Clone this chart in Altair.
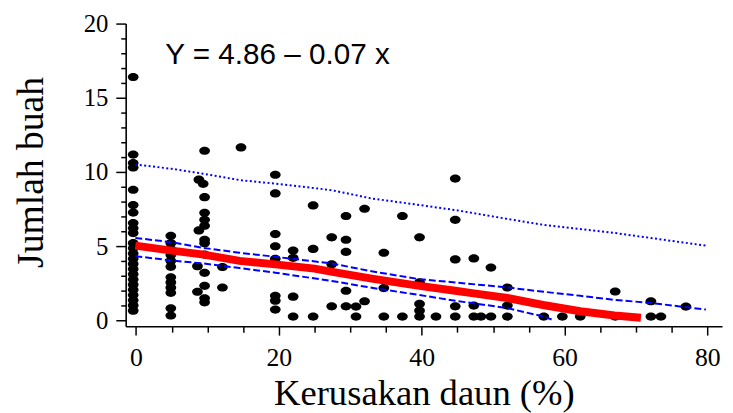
import altair as alt
import pandas as pd

# ---- scatter data (Kerusakan daun %, Jumlah buah) ----
pts_x = (
    [-0.4] * 24
    + [4.87] * 12
    + [9.6, 8.8, 9.4, 9.6, 9.6, 9.6, 9.6, 8.8, 9.6, 9.6, 9.6, 8.6, 9.6, 9.6, 8.6, 9.6, 9.6]
    + [12.1, 12.1, 14.7]
    + [19.5] * 8
    + [22.0] * 4
    + [24.8] * 3
    + [27.4] * 3
    + [29.4] * 5
    + [30.8] * 2
    + [32.0] * 2
    + [34.7] * 3
    + [37.3] * 2
    + [39.7] * 5
    + [42.0]
    + [44.7] * 5
    + [47.3] * 3
    + [48.3]
    + [49.7] * 2
    + [52.0] * 3
    + [57.1, 59.7, 62.2]
    + [67.1] * 2
    + [72.1] * 2
    + [73.5, 77.0]
)
pts_y = (
    [16.4, 11.17, 10.6, 10.3, 8.8, 7.77, 7.26, 6.55, 6.2, 5.88, 5.2, 4.85,
     4.5, 4.15, 3.8, 3.45, 3.1, 2.75, 2.4, 2.05, 1.7, 1.35, 1.0, 0.65]
    + [5.7, 5.2, 4.8, 4.4, 4.0, 3.6, 2.9, 2.55, 2.2, 1.85, 0.81, 0.32]
    + [11.43, 9.48, 9.2, 8.3, 7.25, 6.77, 6.37, 6.06, 5.43, 5.2, 4.43, 3.65, 3.2, 2.32, 1.92, 1.48, 1.21]
    + [3.59, 2.21, 11.65]
    + [9.81, 8.55, 5.81, 4.99, 4.14, 1.65, 1.32, 0.72]
    + [4.7, 4.21, 1.59, 0.25]
    + [7.74, 4.81, 0.25]
    + [5.59, 3.77, 0.94]
    + [7.03, 5.43, 4.61, 1.99, 0.94]
    + [0.92, 0.25]
    + [7.52, 1.28]
    + [4.55, 2.17, 0.25]
    + [7.03, 0.25]
    + [5.59, 2.55, 1.1, 0.65, 0.25]
    + [0.25]
    + [9.55, 6.77, 4.1, 0.94, 0.25]
    + [4.17, 0.99, 0.25]
    + [0.25]
    + [3.55, 0.25]
    + [2.21, 0.99, 0.25]
    + [0.25, 0.25, 0.25]
    + [1.94, 0.25]
    + [1.28, 0.25]
    + [0.25, 0.92]
)

# ---- fitted line (red) ----
fit_x = [-0.1, 5, 9.5, 14.5, 19.5, 25, 27.5, 33, 39.7, 44.7, 47.3, 52, 57, 62.2, 67, 70.7]
fit_y = [5.03, 4.7, 4.43, 4.0, 3.77, 3.48, 3.26, 2.81, 2.32, 1.99, 1.81, 1.5, 1.03, 0.61, 0.32, 0.17]

# ---- confidence band (dashed) ----
ci_up_x = [-0.1, 5, 9.4, 14.5, 19.5, 27.4, 33, 39.7, 44.7, 52, 57.1, 62.2, 67.1, 72.1, 79.8]
ci_up_y = [5.55, 5.26, 4.88, 4.55, 4.28, 3.83, 3.3, 2.77, 2.55, 2.21, 1.92, 1.65, 1.37, 1.17, 0.72]
ci_lo_x = [-0.1, 5, 9.4, 14.5, 19.5, 27.4, 33, 39.7, 44.7, 52, 57.1, 58.2]
ci_lo_y = [4.32, 4.03, 3.83, 3.52, 3.21, 2.65, 2.19, 1.7, 1.32, 0.82, 0.25, 0.05]

# ---- prediction band upper (dotted) ----
pi_up_x = [-0.1, 5, 9.4, 14.5, 19.5, 27.4, 33, 39.7, 44.7, 52, 57.1, 67.1, 79.8]
pi_up_y = [10.5, 10.21, 9.88, 9.45, 9.21, 8.77, 8.21, 7.77, 7.43, 6.83, 6.43, 5.88, 5.03]

# ---- annotation ----
eq_text = ["Y = 4.86 \u2013 0.07 x"]
eq_x = [4.1]
eq_y = [17.3]

x_ticks = list(range(0, 81, 5))
y_ticks = list(range(0, 21, 1))

XDOM = [-1.45, 82.06]
YDOM = [-0.4, 20.0]

pts = pd.DataFrame({"x": pts_x, "y": pts_y})
fit = pd.DataFrame({"x": fit_x, "y": fit_y})
ciu = pd.DataFrame({"x": ci_up_x, "y": ci_up_y})
cil = pd.DataFrame({"x": ci_lo_x, "y": ci_lo_y})
piu = pd.DataFrame({"x": pi_up_x, "y": pi_up_y})
eq = pd.DataFrame({"x": eq_x, "y": eq_y, "t": eq_text})

X = alt.X(
    "x:Q",
    scale=alt.Scale(domain=XDOM, nice=False, zero=False),
    axis=alt.Axis(
        values=x_ticks,
        labelExpr="datum.value % 20 === 0 ? datum.label : ''",
        labelFont="Liberation Serif",
        labelFontSize=26,
        labelColor="black",
        title="Kerusakan daun (%)",
        tickSize={"condition": {"test": "datum.value % 20 === 0", "value": 9}, "value": 6},
        labelPadding=10,
        titleFont="Liberation Serif",
        titleFontSize=37,
        titleFontWeight="normal",
        titleBaseline="alphabetic",
        titleY=79,
    ),
)
Y = alt.Y(
    "y:Q",
    scale=alt.Scale(domain=YDOM, nice=False, zero=False),
    axis=alt.Axis(
        values=y_ticks,
        labelExpr="datum.value % 5 === 0 ? datum.label : ''",
        labelFont="Liberation Serif",
        labelFontSize=25,
        labelColor="black",
        title="Jumlah buah",
        tickSize={"condition": {"test": "datum.value % 5 === 0", "value": 10}, "value": 5},
        labelPadding=8,
        titleFont="Liberation Serif",
        titleFontSize=38,
        titleFontWeight="normal",
        titleBaseline="alphabetic",
        titleAngle=270,
        titleX=-84,
        titleY=150,
    ),
)

ellipse = "M-1,0A1,0.76,0,1,0,1,0A1,0.76,0,1,0,-1,0Z"

points = alt.Chart(pts).mark_point(
    shape=ellipse, filled=True, color="black", size=118, opacity=1, strokeWidth=0
).encode(x=X, y=Y)

fit_line = alt.Chart(fit).mark_line(color="#ff0000", strokeWidth=8).encode(x=X, y=Y)
ci_up = alt.Chart(ciu).mark_line(color="#0000ff", strokeWidth=2, strokeDash=[7, 3]).encode(x=X, y=Y)
ci_lo = alt.Chart(cil).mark_line(color="#0000ff", strokeWidth=2, strokeDash=[7, 3]).encode(x=X, y=Y)
pi_up = alt.Chart(piu).mark_line(color="#0000ff", strokeWidth=2, strokeDash=[2, 2.5]).encode(x=X, y=Y)

eq_mark = alt.Chart(eq).mark_text(
    font="Liberation Sans", fontSize=30, color="black", align="left", baseline="alphabetic"
).encode(x=X, y=Y, text="t:N")

chart = (
    alt.layer(points, pi_up, ci_up, ci_lo, fit_line, eq_mark)
    .properties(
        width=603,
        height=306,
        autosize=alt.AutoSizeParams(type="none"),
        padding={"left": 119, "top": 13.5, "right": 3, "bottom": 85},
    )
    .configure_view(stroke=None)
    .configure_axis(
        grid=False,
        domainColor="black",
        domainWidth=1.6,
        tickColor="black",
        tickWidth=1.5,
        titleColor="black",
    )
)

chart.save("out.html", embed_options={"renderer": "svg", "actions": False})
